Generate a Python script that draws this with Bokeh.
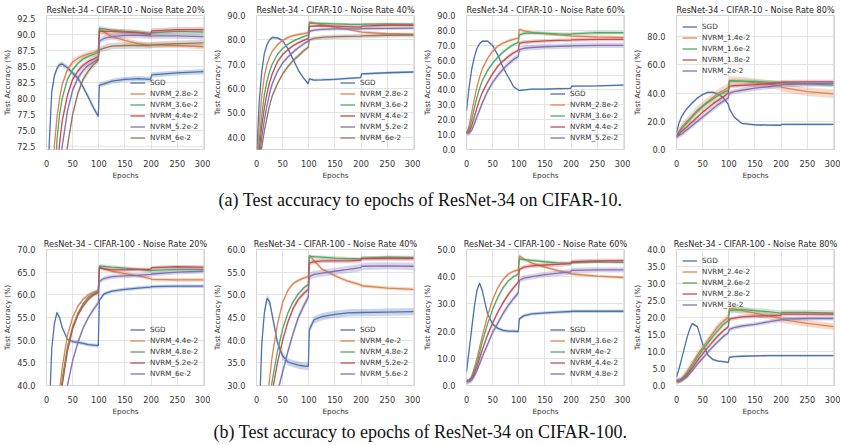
from bokeh.plotting import figure
from bokeh.layouts import column, row
from bokeh.models import (Legend, LegendItem, Label, FixedTicker, NumeralTickFormatter,
                          Range1d, ColumnDataSource)
from bokeh.embed import file_html
from bokeh.resources import INLINE

# ---------------- data ----------------
EPOCHS = [0, 5, 10, 15, 20, 25, 30, 40, 50, 60, 70, 80, 90, 99, 101, 110, 125, 150, 175, 199, 201, 250, 300]
EPOCH_TICKS = [0, 50, 100, 150, 200, 250, 300]

# CIFAR-10, noise 20%
C10_20_TITLE = "ResNet-34 - CIFAR-10 - Noise Rate 20%"
C10_20_LABELS = ["SGD", "NVRM_2.8e-2", "NVRM_3.6e-2", "NVRM_4.4e-2", "NVRM_5.2e-2", "NVRM_6e-2"]
C10_20_SGD = [45, 72.5, 81, 83.5, 84.7, 85.3, 85.4, 84.8, 84.0, 83.2, 81.8, 80.2, 78.5, 77.2, 82.1, 82.3, 82.7, 83.0, 83.1, 83.0, 83.7, 84.0, 84.2]
C10_20_A = [30, 45, 60, 72.5, 77, 80, 82.2, 84.5, 85.7, 86.3, 86.7, 87.0, 87.2, 87.5, 90.8, 90.4, 89.7, 89.1, 88.6, 88.3, 88.4, 88.3, 88.1]
C10_20_B = [25, 38, 52, 66, 73.5, 77.5, 80, 83, 84.5, 85.5, 86.2, 86.6, 86.9, 87.2, 91.0, 90.9, 90.7, 90.5, 90.4, 90.2, 90.3, 90.5, 90.4]
C10_20_C = [20, 33, 45, 58, 68, 73, 76.5, 80.5, 83, 84.3, 85.2, 85.8, 86.2, 86.6, 90.5, 90.5, 90.5, 90.4, 90.3, 90.0, 90.6, 90.8, 90.8]
C10_20_D = [18, 30, 40, 52, 61, 68, 72.5, 78, 81.3, 83.2, 84.4, 85.2, 85.7, 86.2, 89.0, 89.4, 89.7, 89.9, 89.9, 89.8, 89.8, 89.8, 89.7]
C10_20_E = [15, 25, 34, 44, 52, 59, 65, 72.5, 77.5, 80.8, 83, 84.3, 85.3, 86.0, 87.6, 87.9, 88.2, 88.3, 88.3, 88.3, 88.4, 88.6, 88.7]
C10_20_SPREAD = [0.4, 0.4, 0.35, 0.4, 0.45, 0.5]

# CIFAR-10, noise 40%
C10_40_TITLE = "ResNet-34 - CIFAR-10 - Noise Rate 40%"
C10_40_LABELS = ["SGD", "NVRM_2.8e-2", "NVRM_3.6e-2", "NVRM_4.4e-2", "NVRM_5.2e-2", "NVRM_6e-2"]
C10_40_SGD = [30, 54, 67, 74.5, 78, 80, 81, 80.8, 79.7, 76.4, 72, 67.5, 64.3, 62, 64, 63.5, 63.6, 63.8, 64.2, 64.5, 66, 66.5, 66.8]
C10_40_A = [25, 45, 57, 65, 70, 73, 75.3, 78, 79.8, 81, 81.7, 82.2, 82.6, 83, 87.4, 87, 86.2, 85.2, 84.3, 83.3, 83.2, 82.5, 82.2]
C10_40_B = [22, 38, 49, 57.5, 63, 67, 70, 74, 76.5, 78.2, 79.5, 80.5, 81.3, 82, 86.8, 86.8, 86.8, 86.6, 86.4, 86.3, 86.5, 86.6, 86.5]
C10_40_C = [20, 34, 44.5, 52, 58, 62.5, 66, 71, 74, 76, 77.6, 78.8, 79.8, 80.6, 85.5, 85.7, 85.8, 85.6, 85.4, 85.2, 85.6, 86, 86]
C10_40_D = [18, 30, 40, 47, 53, 58, 62, 67, 70.5, 73, 75, 76.8, 78.3, 79.5, 83.5, 84, 84.3, 84.5, 84.5, 84.5, 84.6, 84.7, 84.8]
C10_40_E = [15, 27, 36, 42.5, 48, 53, 57, 62, 66, 69, 71.5, 73.5, 75.5, 77, 80, 80.6, 81, 81.3, 81.4, 81.5, 81.6, 81.9, 82]
C10_40_SPREAD = [0.5, 0.6, 0.5, 0.6, 0.7, 0.9]

# CIFAR-10, noise 60%
C10_60_TITLE = "ResNet-34 - CIFAR-10 - Noise Rate 60%"
C10_60_LABELS = ["SGD", "NVRM_2.8e-2", "NVRM_3.6e-2", "NVRM_4.4e-2", "NVRM_5.2e-2"]
C10_60_SGD = [26, 42, 54, 62, 68, 71, 72.7, 72.8, 69.8, 63.4, 55, 48.5, 42.2, 40, 39.5, 40, 40.5, 40.6, 40.9, 41, 42.5, 42.8, 43.2]
C10_60_A = [11, 16, 25, 34, 42, 48.5, 54, 61, 66, 69.5, 71.5, 73, 74, 74.8, 80.7, 79.6, 78.6, 77.8, 77, 76.3, 76.2, 75.7, 75.3]
C10_60_B = [11, 13.5, 20, 28, 35, 41, 46, 53, 58, 62, 65.5, 68.2, 70.5, 72, 77, 78, 78.3, 78, 77.6, 77.4, 77.6, 78.5, 78.4]
C10_60_C = [11, 12, 16, 22, 28, 33.5, 38, 45, 51, 56, 59.5, 62.5, 65, 66.5, 71.5, 72, 72.5, 73, 73.3, 73.5, 73.6, 74, 74]
C10_60_D = [11, 11, 13, 17.5, 22, 26.5, 31, 39, 45, 50, 54, 57.5, 60.5, 62.5, 67, 68, 68.5, 69, 69.3, 69.5, 69.6, 70, 70]
C10_60_SPREAD = [0.6, 1.0, 1.2, 1.3, 1.8]

# CIFAR-10, noise 80%
C10_80_TITLE = "ResNet-34 - CIFAR-10 - Noise Rate 80%"
C10_80_LABELS = ["SGD", "NVRM_1.4e-2", "NVRM_1.6e-2", "NVRM_1.8e-2", "NVRM_2e-2"]
C10_80_SGD = [12, 19, 23.5, 26.5, 29, 31, 33, 36.5, 39, 40.5, 40.5, 39.3, 36.5, 32, 29, 23, 18.5, 17.5, 17.3, 17.2, 17.8, 17.8, 17.8]
C10_80_A = [10, 13, 16, 18, 20, 22, 24, 28, 31, 34, 37, 40, 42, 44, 49, 48.8, 48.5, 47.3, 46.3, 45.3, 44, 41, 39.5]
C10_80_B = [10, 12.5, 15, 17, 19, 21, 23, 27, 30.5, 33.5, 36, 38.5, 40.5, 42, 48.5, 48.6, 48.5, 48.2, 47.8, 47.5, 47.3, 46.5, 45.6]
C10_80_C = [9, 11, 13, 14.5, 16, 18, 19.5, 23, 26.5, 29.5, 32.5, 35, 37.5, 40, 45, 45.2, 45.5, 46, 46.6, 47.2, 47.8, 48, 48]
C10_80_D = [9, 10, 11, 12.5, 14, 15.5, 17, 20, 23, 26, 29, 32, 34.5, 36.5, 40, 41, 42, 43.5, 44.5, 45.5, 46, 46.5, 46.8]
C10_80_SPREAD = [0.8, 3.0, 1.5, 1.5, 1.8]

# CIFAR-100, noise 20%
C100_20_TITLE = "ResNet-34 - CIFAR-100 - Noise Rate 20%"
C100_20_LABELS = ["SGD", "NVRM_4.4e-2", "NVRM_4.8e-2", "NVRM_5.2e-2", "NVRM_6e-2"]
C100_20_SGD = [5, 33, 48, 53.6, 56.1, 55, 52.8, 50.2, 49.7, 49.5, 49.3, 49, 48.9, 48.8, 58.8, 60.2, 60.8, 61.2, 61.5, 61.7, 61.8, 61.9, 61.9]
C100_20_A = [1, 5, 12, 22, 32, 39, 44, 51, 55, 57.5, 59, 60, 60.6, 61, 66, 65.8, 65.2, 64.7, 64.2, 63.6, 63.4, 63.3, 63.3]
C100_20_B = [1, 4, 10, 19, 28, 36, 41.5, 48.5, 53, 56, 58, 59.5, 60.2, 60.8, 66.4, 66.3, 66.1, 65.9, 65.6, 65.3, 65.4, 65.6, 65.6]
C100_20_C = [1, 3.5, 9, 17, 26, 34, 40, 47.5, 52.5, 55.5, 57.5, 59, 60, 60.5, 66, 65.7, 65.5, 65.5, 65.6, 65.6, 66, 66.2, 66.1]
C100_20_D = [1, 2.5, 6, 12, 19, 25.5, 31, 40, 45.5, 49.5, 52.7, 55, 56.8, 58.3, 63, 63.6, 64, 64.2, 64.3, 64.5, 64.6, 65, 65.2]
C100_20_SPREAD = [0.4, 0.4, 0.4, 0.4, 0.5]

# CIFAR-100, noise 40%
C100_40_TITLE = "ResNet-34 - CIFAR-100 - Noise Rate 40%"
C100_40_LABELS = ["SGD", "NVRM_4e-2", "NVRM_4.8e-2", "NVRM_5.2e-2", "NVRM_5.6e-2"]
C100_40_SGD = [3, 22, 39, 46, 49.2, 48.5, 45.5, 39.5, 36.5, 35.2, 34.8, 34.5, 34.3, 34.2, 42.3, 44.5, 45.2, 45.7, 46, 46.1, 46.1, 46.2, 46.3]
C100_40_A = [1, 4, 11, 21, 27, 31.5, 36.5, 43.5, 48.3, 51, 52.5, 53.2, 53.7, 54, 58.7, 57.5, 55.7, 54.2, 53, 52.2, 52, 51.5, 51.2]
C100_40_B = [1, 3, 8, 15, 22, 27, 31, 37.5, 42.5, 46, 48.5, 50.2, 51.5, 52.3, 58.5, 58.4, 58.3, 58.1, 58, 57.9, 58.1, 58.3, 58.2]
C100_40_C = [1, 2.5, 7, 13, 19, 24, 28.5, 35, 40, 44, 47, 49, 50.3, 51.2, 57, 57.3, 57.5, 57.5, 57.5, 57.6, 58, 58, 58]
C100_40_D = [1, 2, 5, 9, 14, 18, 22, 28.5, 33, 37.5, 41.5, 45, 47.5, 49.5, 54, 54.5, 54.8, 55.2, 55.6, 56, 56.3, 56.4, 56.3]
C100_40_SPREAD = [0.8, 0.4, 0.4, 0.5, 0.8]

# CIFAR-100, noise 60%
C100_60_TITLE = "ResNet-34 - CIFAR-100 - Noise Rate 60%"
C100_60_LABELS = ["SGD", "NVRM_3.6e-2", "NVRM_4e-2", "NVRM_4.4e-2", "NVRM_4.8e-2"]
C100_60_SGD = [5, 13, 21, 29, 35, 37.6, 35, 26.5, 22.5, 21, 20.3, 20, 20, 19.8, 24.5, 25.7, 26.3, 26.7, 27, 27.2, 27.3, 27.3, 27.3]
C100_60_A = [1.5, 1.8, 3.5, 6.5, 10, 14, 18, 25.5, 31.5, 36, 39, 41, 42, 42.5, 47.7, 46.5, 45, 43.5, 42.2, 41.2, 41, 40.2, 39.7]
C100_60_B = [1.5, 1.7, 3, 5.5, 8.5, 12, 16, 22.5, 28, 32.5, 36, 38.5, 40, 41, 46.6, 46.3, 46, 45.5, 45.1, 44.9, 45.2, 45.5, 45.3]
C100_60_C = [1.5, 1.6, 2.5, 4.5, 7, 10, 13, 18.5, 23, 27, 30.5, 33.5, 36, 38, 42.7, 43.5, 44, 44.3, 44.5, 44.8, 45.5, 45.8, 45.9]
C100_60_D = [1.5, 1.5, 2, 3.5, 5.5, 8, 10.5, 15, 19.5, 23, 26.5, 29.5, 32, 34, 38.7, 39.5, 40, 40.8, 41.3, 41.8, 42.3, 42.5, 42.5]
C100_60_SPREAD = [0.6, 0.6, 0.6, 0.8, 1.0]

# CIFAR-100, noise 80%
C100_80_TITLE = "ResNet-34 - CIFAR-100 - Noise Rate 80%"
C100_80_LABELS = ["SGD", "NVRM_2.4e-2", "NVRM_2.6e-2", "NVRM_2.8e-2", "NVRM_3e-2"]
C100_80_SGD = [2.5, 5, 8, 11, 14, 16.5, 18.2, 17.3, 12.2, 9.0, 7.6, 7.2, 7, 6.8, 8.3, 8.5, 8.6, 8.7, 8.8, 8.8, 8.8, 8.8, 8.8]
C100_80_A = [1.3, 1.5, 2, 3, 4, 5.3, 6.5, 9, 11.2, 13.3, 15.5, 17.5, 19, 20, 22.6, 22.5, 22, 21.3, 20.5, 19.8, 19.4, 18.3, 17.3]
C100_80_B = [1.3, 1.4, 1.8, 2.6, 3.5, 4.6, 5.8, 8.3, 10.5, 12.5, 14.5, 16.3, 18, 19, 22, 22.2, 22.3, 22, 21.7, 21.3, 21.5, 21.5, 21.3]
C100_80_C = [1.3, 1.4, 1.7, 2.3, 3, 4, 5, 7.3, 9.3, 11.2, 13, 14.7, 16.2, 17.3, 19.5, 19.8, 20.2, 20.4, 20.5, 20.6, 21, 21, 21]
C100_80_D = [1.3, 1.3, 1.5, 2, 2.5, 3.4, 4.3, 6.3, 8, 9.8, 11.5, 13, 14.5, 15.5, 16.5, 17, 17.5, 18, 18.7, 19.3, 19.5, 19.7, 19.7]
C100_80_SPREAD = [0.3, 1.0, 0.8, 0.6, 0.6]

CAPTION_A = "(a) Test accuracy to epochs of ResNet-34 on CIFAR-10."
CAPTION_B = "(b) Test accuracy to epochs of ResNet-34 on CIFAR-100."

# ---------------- styling ----------------
COLORS = ["#4C72B0", "#DD8452", "#55A868", "#C44E52", "#8172B3", "#937860"]
FONT = "DejaVu Sans"
TEXT_COLOR = "#333333"
GRID_COLOR = "#E3E3E3"


def make_panel(title, labels, series, spread, ylim, yticks, legend_loc, top_border, height):
    p = figure(width=210, height=height, output_backend="svg", toolbar_location=None,
               x_range=Range1d(0, 302), y_range=Range1d(*ylim),
               min_border_left=40, min_border_right=6, min_border_top=top_border,
               min_border_bottom=height - top_border - 142)
    p.title.text = title
    p.title.text_font = FONT
    p.title.text_font_size = "8.1px"
    p.title.text_font_style = "normal"
    p.title.text_color = "#262626"
    p.title.align = "center"
    p.title.standoff = 2

    p.outline_line_color = "#D5D5D5"
    p.grid.grid_line_color = GRID_COLOR
    p.grid.grid_line_width = 1

    p.xaxis.ticker = FixedTicker(ticks=EPOCH_TICKS)
    p.yaxis.ticker = FixedTicker(ticks=yticks)
    p.yaxis.formatter = NumeralTickFormatter(format="0.0")
    p.xaxis.axis_label = "Epochs"
    p.yaxis.axis_label = "Test Accuracy (%)"
    for ax in (p.xaxis[0], p.yaxis[0]):
        ax.axis_line_color = None
        ax.major_tick_line_color = None
        ax.minor_tick_line_color = None
        ax.major_label_text_font = FONT
        ax.major_label_text_font_size = "8.2px"
        ax.major_label_text_color = TEXT_COLOR
        ax.axis_label_text_font = FONT
        ax.axis_label_text_font_size = "7.3px"
        ax.axis_label_text_font_style = "normal"
        ax.axis_label_text_color = TEXT_COLOR
    p.xaxis.major_label_standoff = 4
    p.xaxis.axis_label_standoff = 1
    p.yaxis.major_label_standoff = 5
    p.yaxis.axis_label_standoff = 2

    items = []
    for i, (lab, ys) in enumerate(zip(labels, series)):
        s = spread[i]
        src = ColumnDataSource(dict(x=EPOCHS, y=ys,
                                    lo=[v - s for v in ys], hi=[v + s for v in ys]))
        c = COLORS[i]
        p.varea(x="x", y1="lo", y2="hi", source=src, fill_color=c, fill_alpha=0.3)
        r = p.line(x="x", y="y", source=src, line_color=c, line_width=1.3)
        items.append(LegendItem(label=lab, renderers=[r]))

    leg = Legend(items=items, location=legend_loc)
    leg.label_text_font = FONT
    leg.label_text_font_size = "7.2px"
    leg.label_text_color = TEXT_COLOR
    leg.glyph_width = 15
    leg.glyph_height = 11
    leg.label_height = 11
    leg.label_standoff = 5
    leg.spacing = 0
    leg.padding = 2
    leg.margin = 4
    leg.background_fill_alpha = 0
    leg.border_line_alpha = 0
    p.add_layout(leg)
    return p


def make_caption(text, height):
    c = figure(width=840, height=height, output_backend="svg", toolbar_location=None,
               x_range=Range1d(0, 1), y_range=Range1d(0, 1),
               min_border=0)
    c.axis.visible = False
    c.grid.visible = False
    c.outline_line_color = None
    c.add_layout(Label(x=0.5, y=0.5, text=text, text_align="center", text_baseline="middle",
                       text_font="Liberation Serif", text_font_size="18px", text_color="#111111"))
    return c


top = [
    make_panel(C10_20_TITLE, C10_20_LABELS,
               [C10_20_SGD, C10_20_A, C10_20_B, C10_20_C, C10_20_D, C10_20_E], C10_20_SPREAD,
               (72, 93), [72.5, 75, 77.5, 80, 82.5, 85, 87.5, 90, 92.5], "bottom_right", 15, 182),
    make_panel(C10_40_TITLE, C10_40_LABELS,
               [C10_40_SGD, C10_40_A, C10_40_B, C10_40_C, C10_40_D, C10_40_E], C10_40_SPREAD,
               (35, 90), [40, 50, 60, 70, 80, 90], "bottom_right", 15, 182),
    make_panel(C10_60_TITLE, C10_60_LABELS,
               [C10_60_SGD, C10_60_A, C10_60_B, C10_60_C, C10_60_D], C10_60_SPREAD,
               (0, 90), [0, 10, 20, 30, 40, 50, 60, 70, 80, 90], "bottom_right", 15, 182),
    make_panel(C10_80_TITLE, C10_80_LABELS,
               [C10_80_SGD, C10_80_A, C10_80_B, C10_80_C, C10_80_D], C10_80_SPREAD,
               (0, 95), [0, 20, 40, 60, 80], "top_left", 15, 182),
]
bottom = [
    make_panel(C100_20_TITLE, C100_20_LABELS,
               [C100_20_SGD, C100_20_A, C100_20_B, C100_20_C, C100_20_D], C100_20_SPREAD,
               (40, 70), [40, 45, 50, 55, 60, 65, 70], "bottom_right", 33, 202),
    make_panel(C100_40_TITLE, C100_40_LABELS,
               [C100_40_SGD, C100_40_A, C100_40_B, C100_40_C, C100_40_D], C100_40_SPREAD,
               (30, 60), [30, 35, 40, 45, 50, 55, 60], "bottom_right", 33, 202),
    make_panel(C100_60_TITLE, C100_60_LABELS,
               [C100_60_SGD, C100_60_A, C100_60_B, C100_60_C, C100_60_D], C100_60_SPREAD,
               (0, 50), [0, 10, 20, 30, 40, 50], "bottom_right", 33, 202),
    make_panel(C100_80_TITLE, C100_80_LABELS,
               [C100_80_SGD, C100_80_A, C100_80_B, C100_80_C, C100_80_D], C100_80_SPREAD,
               (0, 40), [0, 5, 10, 15, 20, 25, 30, 35, 40], "top_left", 33, 202),
]

layout = column(row(*top), make_caption(CAPTION_A, 34), row(*bottom), make_caption(CAPTION_B, 27))
open("out.html", "w").write(file_html(layout, INLINE))
